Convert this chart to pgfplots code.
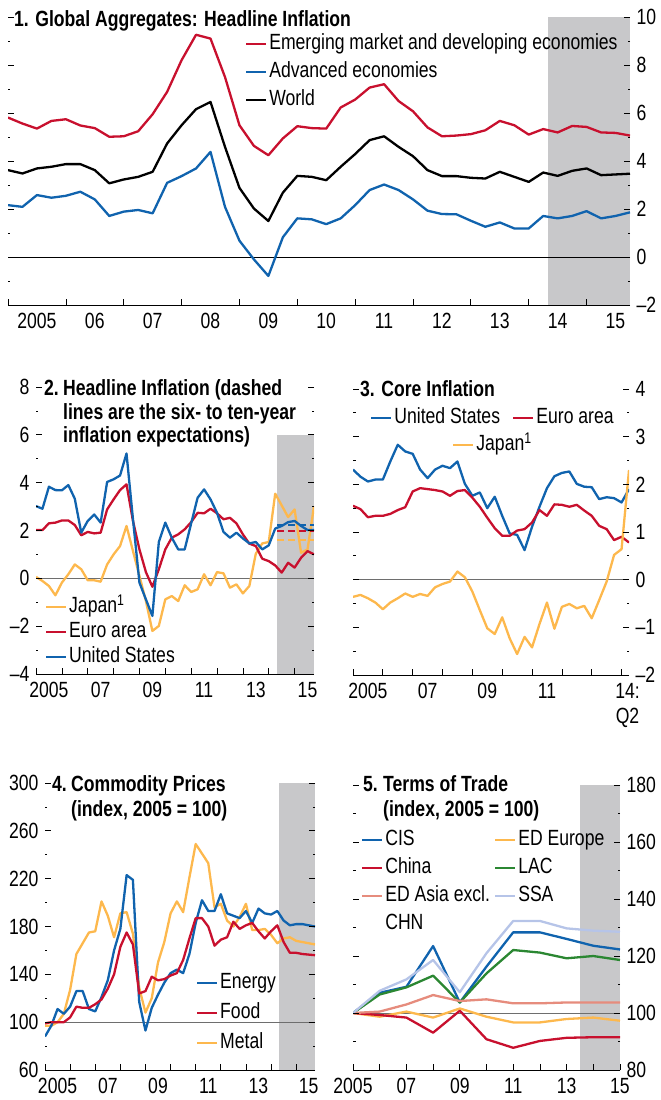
\documentclass[border=0pt]{standalone}
\usepackage{fontspec}
\setmainfont{Liberation Sans}[FakeStretch=0.8]
\usepackage{pgfplots}
\pgfplotsset{compat=1.18}
\usepackage{pgfplotstable}

\definecolor{imfred}{HTML}{C8102E}
\definecolor{imfblue}{HTML}{1063AE}
\definecolor{imfyel}{HTML}{FDB84D}
\definecolor{imfgreen}{HTML}{2B8732}
\definecolor{imfsalmon}{HTML}{E68C7D}
\definecolor{imflblue}{HTML}{B6C4E8}
\definecolor{shadegray}{HTML}{C8C8CA}
\definecolor{zerogray}{HTML}{6E6E6E}

\newcommand{\tf}{\fontsize{22}{25}\selectfont}
\newcommand{\bt}{\bfseries\fontsize{22}{25}\selectfont}

\pgfplotstableread{
x emde adv world
2005.00 5.81 2.16 3.62
2005.25 5.56 2.09 3.48
2005.50 5.35 2.58 3.69
2005.75 5.67 2.47 3.76
2006.00 5.74 2.55 3.87
2006.25 5.48 2.72 3.87
2006.50 5.37 2.40 3.62
2006.75 5.01 1.71 3.07
2007.00 5.03 1.89 3.23
2007.25 5.24 1.96 3.34
2007.50 5.95 1.82 3.55
2007.75 6.88 3.09 4.73
2008.00 8.20 3.37 5.49
2008.25 9.26 3.69 6.16
2008.50 9.10 4.38 6.46
2008.75 7.50 2.09 4.59
2009.00 5.49 0.68 2.88
2009.25 4.63 -0.10 2.02
2009.50 4.24 -0.79 1.50
2009.75 4.94 0.82 2.68
2010.00 5.45 1.61 3.38
2010.25 5.37 1.57 3.34
2010.50 5.35 1.37 3.20
2010.75 6.23 1.61 3.76
2011.00 6.56 2.16 4.29
2011.25 7.06 2.79 4.87
2011.50 7.20 3.02 5.03
2011.75 6.50 2.79 4.59
2012.00 6.07 2.40 4.20
2012.25 5.40 1.93 3.62
2012.50 5.03 1.79 3.37
2012.75 5.06 1.78 3.37
2013.00 5.12 1.51 3.30
2013.25 5.28 1.26 3.27
2013.50 5.67 1.44 3.55
2013.75 5.49 1.19 3.34
2014.00 5.10 1.19 3.13
2014.25 5.33 1.71 3.52
2014.50 5.19 1.61 3.38
2014.75 5.46 1.71 3.59
2015.00 5.42 1.91 3.69
2015.25 5.19 1.61 3.41
2015.50 5.17 1.71 3.44
2015.75 5.06 1.86 3.47
}\tabone

\pgfplotstableread{
x us euro japan
2005.00 3.02 2.02 0.06
2005.25 2.91 2.02 -0.11
2005.50 3.83 2.30 -0.32
2005.75 3.69 2.33 -0.71
2006.00 3.68 2.42 -0.18
2006.25 3.90 2.42 0.17
2006.50 3.33 2.23 0.58
2006.75 1.91 1.80 0.38
2007.00 2.40 1.94 -0.08
2007.25 2.67 1.88 -0.08
2007.50 2.33 1.91 -0.14
2007.75 4.03 2.88 0.58
2008.00 4.14 3.30 1.00
2008.25 4.30 3.69 1.35
2008.50 5.22 3.93 2.19
2008.75 2.47 2.40 1.14
2009.00 -0.18 1.21 0.10
2009.25 -0.88 0.26 -0.95
2009.50 -1.57 -0.35 -2.20
2009.75 1.52 0.38 -1.99
2010.00 2.33 1.21 -0.88
2010.25 1.70 1.70 -0.74
2010.50 1.21 1.84 -0.95
2010.75 1.21 2.05 -0.29
2011.00 2.30 2.35 -0.57
2011.25 3.37 2.74 -0.46
2011.50 3.72 2.72 0.17
2011.75 3.30 2.91 -0.29
2012.00 2.74 2.72 0.26
2012.25 1.94 2.47 0.21
2012.50 1.70 2.53 -0.39
2012.75 1.91 2.30 -0.25
2013.00 1.67 1.84 -0.63
2013.25 1.46 1.45 -0.32
2013.50 1.52 1.35 1.03
2013.75 1.21 0.82 1.46
2014.00 1.38 0.72 1.52
2014.25 2.08 0.54 3.54
2014.50 2.19 0.24 3.05
2014.75 2.35 0.65 2.56
2015.00 2.40 0.45 2.88
2015.25 2.19 0.86 1.07
2015.50 2.02 1.14 1.21
2015.75 2.02 1.00 3.02
}\tabtwo

\pgfplotstableread{
x us euro japan
2005.00 2.31 1.55 -0.36
2005.25 2.16 1.48 -0.32
2005.50 2.06 1.31 -0.39
2005.75 2.10 1.34 -0.48
2006.00 2.10 1.34 -0.62
2006.25 2.48 1.38 -0.48
2006.50 2.83 1.46 -0.39
2006.75 2.69 1.52 -0.29
2007.00 2.64 1.85 -0.36
2007.25 2.31 1.92 -0.30
2007.50 2.13 1.90 -0.34
2007.75 2.31 1.88 -0.16
2008.00 2.39 1.85 -0.09
2008.25 2.34 1.76 -0.04
2008.50 2.48 1.86 0.17
2008.75 2.01 1.88 0.05
2009.00 1.76 1.72 -0.25
2009.25 1.83 1.53 -0.64
2009.50 1.50 1.30 -1.02
2009.75 1.74 1.08 -1.14
2010.00 1.34 0.92 -0.79
2010.25 0.97 0.92 -1.23
2010.50 0.94 1.03 -1.56
2010.75 0.62 1.06 -1.20
2011.00 1.11 1.20 -1.42
2011.25 1.53 1.46 -0.93
2011.50 1.92 1.34 -0.48
2011.75 2.17 1.58 -1.03
2012.00 2.24 1.57 -0.57
2012.25 2.27 1.53 -0.51
2012.50 2.01 1.57 -0.60
2012.75 1.95 1.45 -0.55
2013.00 1.94 1.34 -0.81
2013.25 1.69 1.13 -0.43
2013.50 1.73 1.06 -0.04
2013.75 1.71 0.83 0.52
2014.00 1.62 0.90 0.64
2014.25 1.90 0.78 2.30
}\tabthree

\pgfplotstableread{
x energy food metal
2005.00 88 99 97
2005.25 97 100 97
2005.50 111 100 100
2005.75 107 100 107
2006.00 113 104 127
2006.25 126 113 157
2006.50 126 112 166
2006.75 111 112 175
2007.00 109 115 176
2007.25 121 119 201
2007.50 135 128 189
2007.75 160 140 171
2008.00 178 163 191
2008.25 223 175 192
2008.50 219 165 174
2008.75 117 124 129
2009.00 93 126 108
2009.25 112 138 120
2009.50 123 135 150
2009.75 133 136 167
2010.00 141 139 191
2010.25 144 141 201
2010.50 141 152 192
2010.75 157 170 221
2011.00 183 187 249
2011.25 202 187 241
2011.50 193 180 233
2011.75 193 164 196
2012.00 207 169 199
2012.25 191 171 185
2012.50 189 184 180
2012.75 187 178 188
2013.00 193 181 199
2013.25 183 183 177
2013.50 195 176 177
2013.75 191 170 178
2014.00 190 176 173
2014.25 193 181 166
2014.50 185 167 170
2014.75 181 158 171
2015.00 182 158 168
2015.25 182 157 167
2015.50 181 156.5 166
2015.75 180 156 165
}\tabfour

\pgfplotstableread{
x cis china edasia edeur lac ssa
2005 100 100 100 100 100 100
2006 107.1 99.3 100.5 98.7 106.5 107.8
2007 109.2 98.4 103.0 100.5 109.0 111.8
2008 123.5 93.1 106.3 98.4 113.1 118.6
2009 103.7 100.8 104.2 101.6 103.7 107.3
2010 116.3 90.8 104.8 98.7 113.9 121.0
2011 128.3 87.8 103.4 96.7 122.1 132.3
2012 128.3 90.2 103.4 96.7 121.2 132.3
2013 126.0 91.3 103.7 97.9 119.2 129.7
2014 123.6 91.5 103.7 98.4 120.0 128.9
2015 122.3 91.5 103.7 97.3 118.6 128.5
}\tabfive

\pgfplotsset{
  imf/.style={
    scale only axis,
    axis x line*=bottom,
    axis y line*=box,
    y axis line style={draw=none},
    x axis line style={black, line width=1pt},
    tick align=inside,
    ytick pos=both,
    major tick length=6pt,
    minor tick length=2.5pt,
    tick style={black, line width=0.7pt},
    minor y tick num=1,
    tick label style={font=\tf, align=center},
    x tick label style={yshift=-5pt},
    extra x tick style={major tick length=0pt, tick style={draw=none}},
    axis on top,
    legend cell align=left,
    legend style={draw=none, fill=none, font=\tf, inner sep=0pt, outer sep=0pt,
      row sep=3pt, nodes={inner sep=2pt, text height=16pt, text depth=5pt}},
    legend image code/.code={\draw[#1] (0pt,0pt) -- (20pt,0pt);},
  },
  rlab/.style={yticklabel pos=right, y tick label style={xshift=3pt}},
  llab/.style={yticklabel pos=left, y tick label style={xshift=-3pt}},
  dat/.style={line width=2.3pt, line join=round},
}

\begin{document}
\begin{tikzpicture}
\useasboundingbox (0,0) rectangle (661pt,-1100pt);

% ---------------- Panel 1
\begin{axis}[imf, rlab, at={(8pt,-305pt)}, anchor=south west, width=622pt, height=288pt,
  xmin=2005, xmax=2015.75, ymin=-2, ymax=10,
  xtick={2005,...,2015}, xticklabels={},
  extra x ticks={2005.5,2006.5,...,2015.5},
  extra x tick labels={2005,06,07,08,09,10,11,12,13,14,15},
  ytick={-2,0,...,10}, yticklabels={\textendash2,0,2,4,6,8,10},
  legend style={at={(0.381,0.95)}, anchor=north west}]
\addplot[fill=shadegray, draw=none, forget plot] coordinates {(2014.33,-2) (2014.33,10) (2015.75,10) (2015.75,-2)} --cycle;
\addplot[black, line width=0.7pt, forget plot] coordinates {(2005,0) (2015.75,0)};
\addplot[dat, imfred] table[x=x, y=emde] {\tabone};
\addlegendentry{Emerging market and developing economies}
\addplot[dat, imfblue] table[x=x, y=adv] {\tabone};
\addlegendentry{Advanced economies}
\addplot[dat, black] table[x=x, y=world] {\tabone};
\addlegendentry{World}
\end{axis}
\node[anchor=base west, inner sep=0pt, font=\bt] at (14pt,-26pt) {1. Global Aggregates: Headline Inflation};

% ---------------- Panel 2
\begin{axis}[imf, llab, at={(36pt,-674pt)}, anchor=south west, width=278pt, height=287pt,
  xmin=2005, xmax=2015.75, ymin=-4, ymax=8,
  xtick={2005,...,2015}, xticklabels={},
  extra x ticks={2005.5,2007.5,...,2015.5},
  extra x tick labels={2005,07,09,11,13,15},
  ytick={-4,-2,...,8}, yticklabels={\textendash4,\textendash2,0,2,4,6,8},
  legend style={at={(0.032,0.015)}, anchor=south west, row sep=0pt}]
\addplot[fill=shadegray, draw=none, forget plot] coordinates {(2014.33,-4) (2014.33,6) (2015.75,6) (2015.75,-4)} --cycle;
\addplot[zerogray, line width=0.8pt, forget plot] coordinates {(2005,0) (2015.75,0)};
\addplot[dat, imfyel] table[x=x, y=japan] {\tabtwo};
\addlegendentry{Japan\textsuperscript{1}}
\addplot[dat, imfred] table[x=x, y=euro] {\tabtwo};
\addlegendentry{Euro area}
\addplot[dat, imfblue] table[x=x, y=us] {\tabtwo};
\addlegendentry{United States}
\addplot[imfyel, line width=2pt, dash pattern=on 7pt off 4pt, forget plot] coordinates {(2014.33,1.6) (2015.75,1.6)};
\addplot[imfred, line width=2pt, dash pattern=on 7pt off 4pt, forget plot] coordinates {(2014.33,2.0) (2015.75,2.0)};
\addplot[imfblue, line width=2pt, dash pattern=on 7pt off 4pt, forget plot] coordinates {(2014.33,2.23) (2015.75,2.23)};
\end{axis}
\node[anchor=base west, inner sep=0pt, font=\bt] at (44pt,-395pt) {2.};
\node[anchor=base west, inner sep=0pt, font=\bt] at (63pt,-395pt) {Headline Inflation (dashed};
\node[anchor=base west, inner sep=0pt, font=\bt] at (63pt,-419pt) {lines are the six- to ten-year};
\node[anchor=base west, inner sep=0pt, font=\bt] at (63pt,-442pt) {inflation expectations)};

% ---------------- Panel 3
\begin{axis}[imf, rlab, at={(353pt,-675pt)}, anchor=south west, width=276pt, height=286pt,
  xmin=2005, xmax=2014.25, ymin=-2, ymax=4,
  xtick={2005,...,2014}, xticklabels={},
  extra x ticks={2005.5,2007.5,2009.5,2011.5,2014.2},
  extra x tick labels={2005,07,09,11,14:\\Q2},
  ytick={-2,-1,...,4}, yticklabels={\textendash2,\textendash1,0,1,2,3,4},
  legend columns=2,
  legend style={at={(0.062,0.942)}, anchor=north west,
    /tikz/every even column/.append style={column sep=10pt}}]
\addplot[zerogray, line width=0.8pt, forget plot] coordinates {(2005,0) (2014.25,0)};
\addplot[dat, imfblue] table[x=x, y=us] {\tabthree};
\addlegendentry{United States}
\addplot[dat, imfred] table[x=x, y=euro] {\tabthree};
\addlegendentry{Euro area}
\addplot[dat, imfyel, forget plot] table[x=x, y=japan] {\tabthree};
\end{axis}
\begin{axis}[imf, hide axis, at={(353pt,-675pt)}, anchor=south west, width=276pt, height=286pt,
  xmin=0, xmax=1, ymin=0, ymax=1,
  legend style={at={(0.359,0.847)}, anchor=north west}]
\addlegendimage{dat, imfyel}
\addlegendentry{Japan\textsuperscript{1}}
\end{axis}
\node[anchor=base west, inner sep=0pt, font=\bt] at (360pt,-396pt) {3. Core Inflation};

% ---------------- Panel 4
\begin{axis}[imf, llab, at={(45pt,-1070pt)}, anchor=south west, width=270pt, height=287pt,
  xmin=2005, xmax=2015.75, ymin=60, ymax=300,
  xtick={2005,...,2015}, xticklabels={},
  extra x ticks={2005.5,2007.5,...,2015.5},
  extra x tick labels={2005,07,09,11,13,15},
  ytick={60,100,...,300}, yticklabels={60,100,140,180,220,260,300},
  legend style={at={(0.559,0.05)}, anchor=south west, row sep=5pt}]
\addplot[fill=shadegray, draw=none, forget plot] coordinates {(2014.33,60) (2014.33,300) (2015.75,300) (2015.75,60)} --cycle;
\addplot[zerogray, line width=0.8pt, forget plot] coordinates {(2005,100) (2015.75,100)};
\addplot[dat, imfyel, forget plot] table[x=x, y=metal] {\tabfour};
\addplot[dat, imfblue] table[x=x, y=energy] {\tabfour};
\addlegendentry{Energy}
\addplot[dat, imfred] table[x=x, y=food] {\tabfour};
\addlegendentry{Food}
\addlegendimage{dat, imfyel}
\addlegendentry{Metal}
\end{axis}
\node[anchor=base west, inner sep=0pt, font=\bt] at (52pt,-791pt) {4.};
\node[anchor=base west, inner sep=0pt, font=\bt] at (71pt,-791pt) {Commodity Prices};
\node[anchor=base west, inner sep=0pt, font=\bt] at (71pt,-816pt) {(index, 2005 = 100)};

% ---------------- Panel 5
\begin{axis}[imf, rlab, at={(353pt,-1070pt)}, anchor=south west, width=267pt, height=285pt,
  xmin=2005, xmax=2015, ymin=80, ymax=180,
  xtick={2005,...,2015}, xticklabels={2005,,07,,09,,11,,13,,15},
  ytick={80,100,...,180}, yticklabels={80,100,120,140,160,180},
  legend columns=2,
  legend style={at={(0.03,0.85)}, anchor=north west, row sep=3pt,
    /tikz/every even column/.append style={column sep=2pt}}]
\addplot[fill=shadegray, draw=none, forget plot] coordinates {(2013.5,80) (2013.5,180) (2015,180) (2015,80)} --cycle;
\addplot[zerogray, line width=0.8pt, forget plot] coordinates {(2005,100) (2015,100)};
\addplot[dat, imfblue] table[x=x, y=cis] {\tabfive};
\addlegendentry{CIS}
\addplot[dat, imfyel] table[x=x, y=edeur] {\tabfive};
\addlegendentry{ED Europe}
\addplot[dat, imfred] table[x=x, y=china] {\tabfive};
\addlegendentry{China}
\addplot[dat, imfgreen] table[x=x, y=lac] {\tabfive};
\addlegendentry{LAC}
\addplot[dat, imfsalmon] table[x=x, y=edasia] {\tabfive};
\addlegendentry{\begin{tabular}[t]{@{}l@{}}ED Asia excl.\\[3pt]CHN\end{tabular}}
\addplot[dat, imflblue] table[x=x, y=ssa] {\tabfive};
\addlegendentry{SSA}
\end{axis}
\node[anchor=base west, inner sep=0pt, font=\bt] at (363pt,-791pt) {5.};
\node[anchor=base west, inner sep=0pt, font=\bt] at (383pt,-791pt) {Terms of Trade};
\node[anchor=base west, inner sep=0pt, font=\bt] at (383pt,-816pt) {(index, 2005 = 100)};
\end{tikzpicture}
\end{document}
